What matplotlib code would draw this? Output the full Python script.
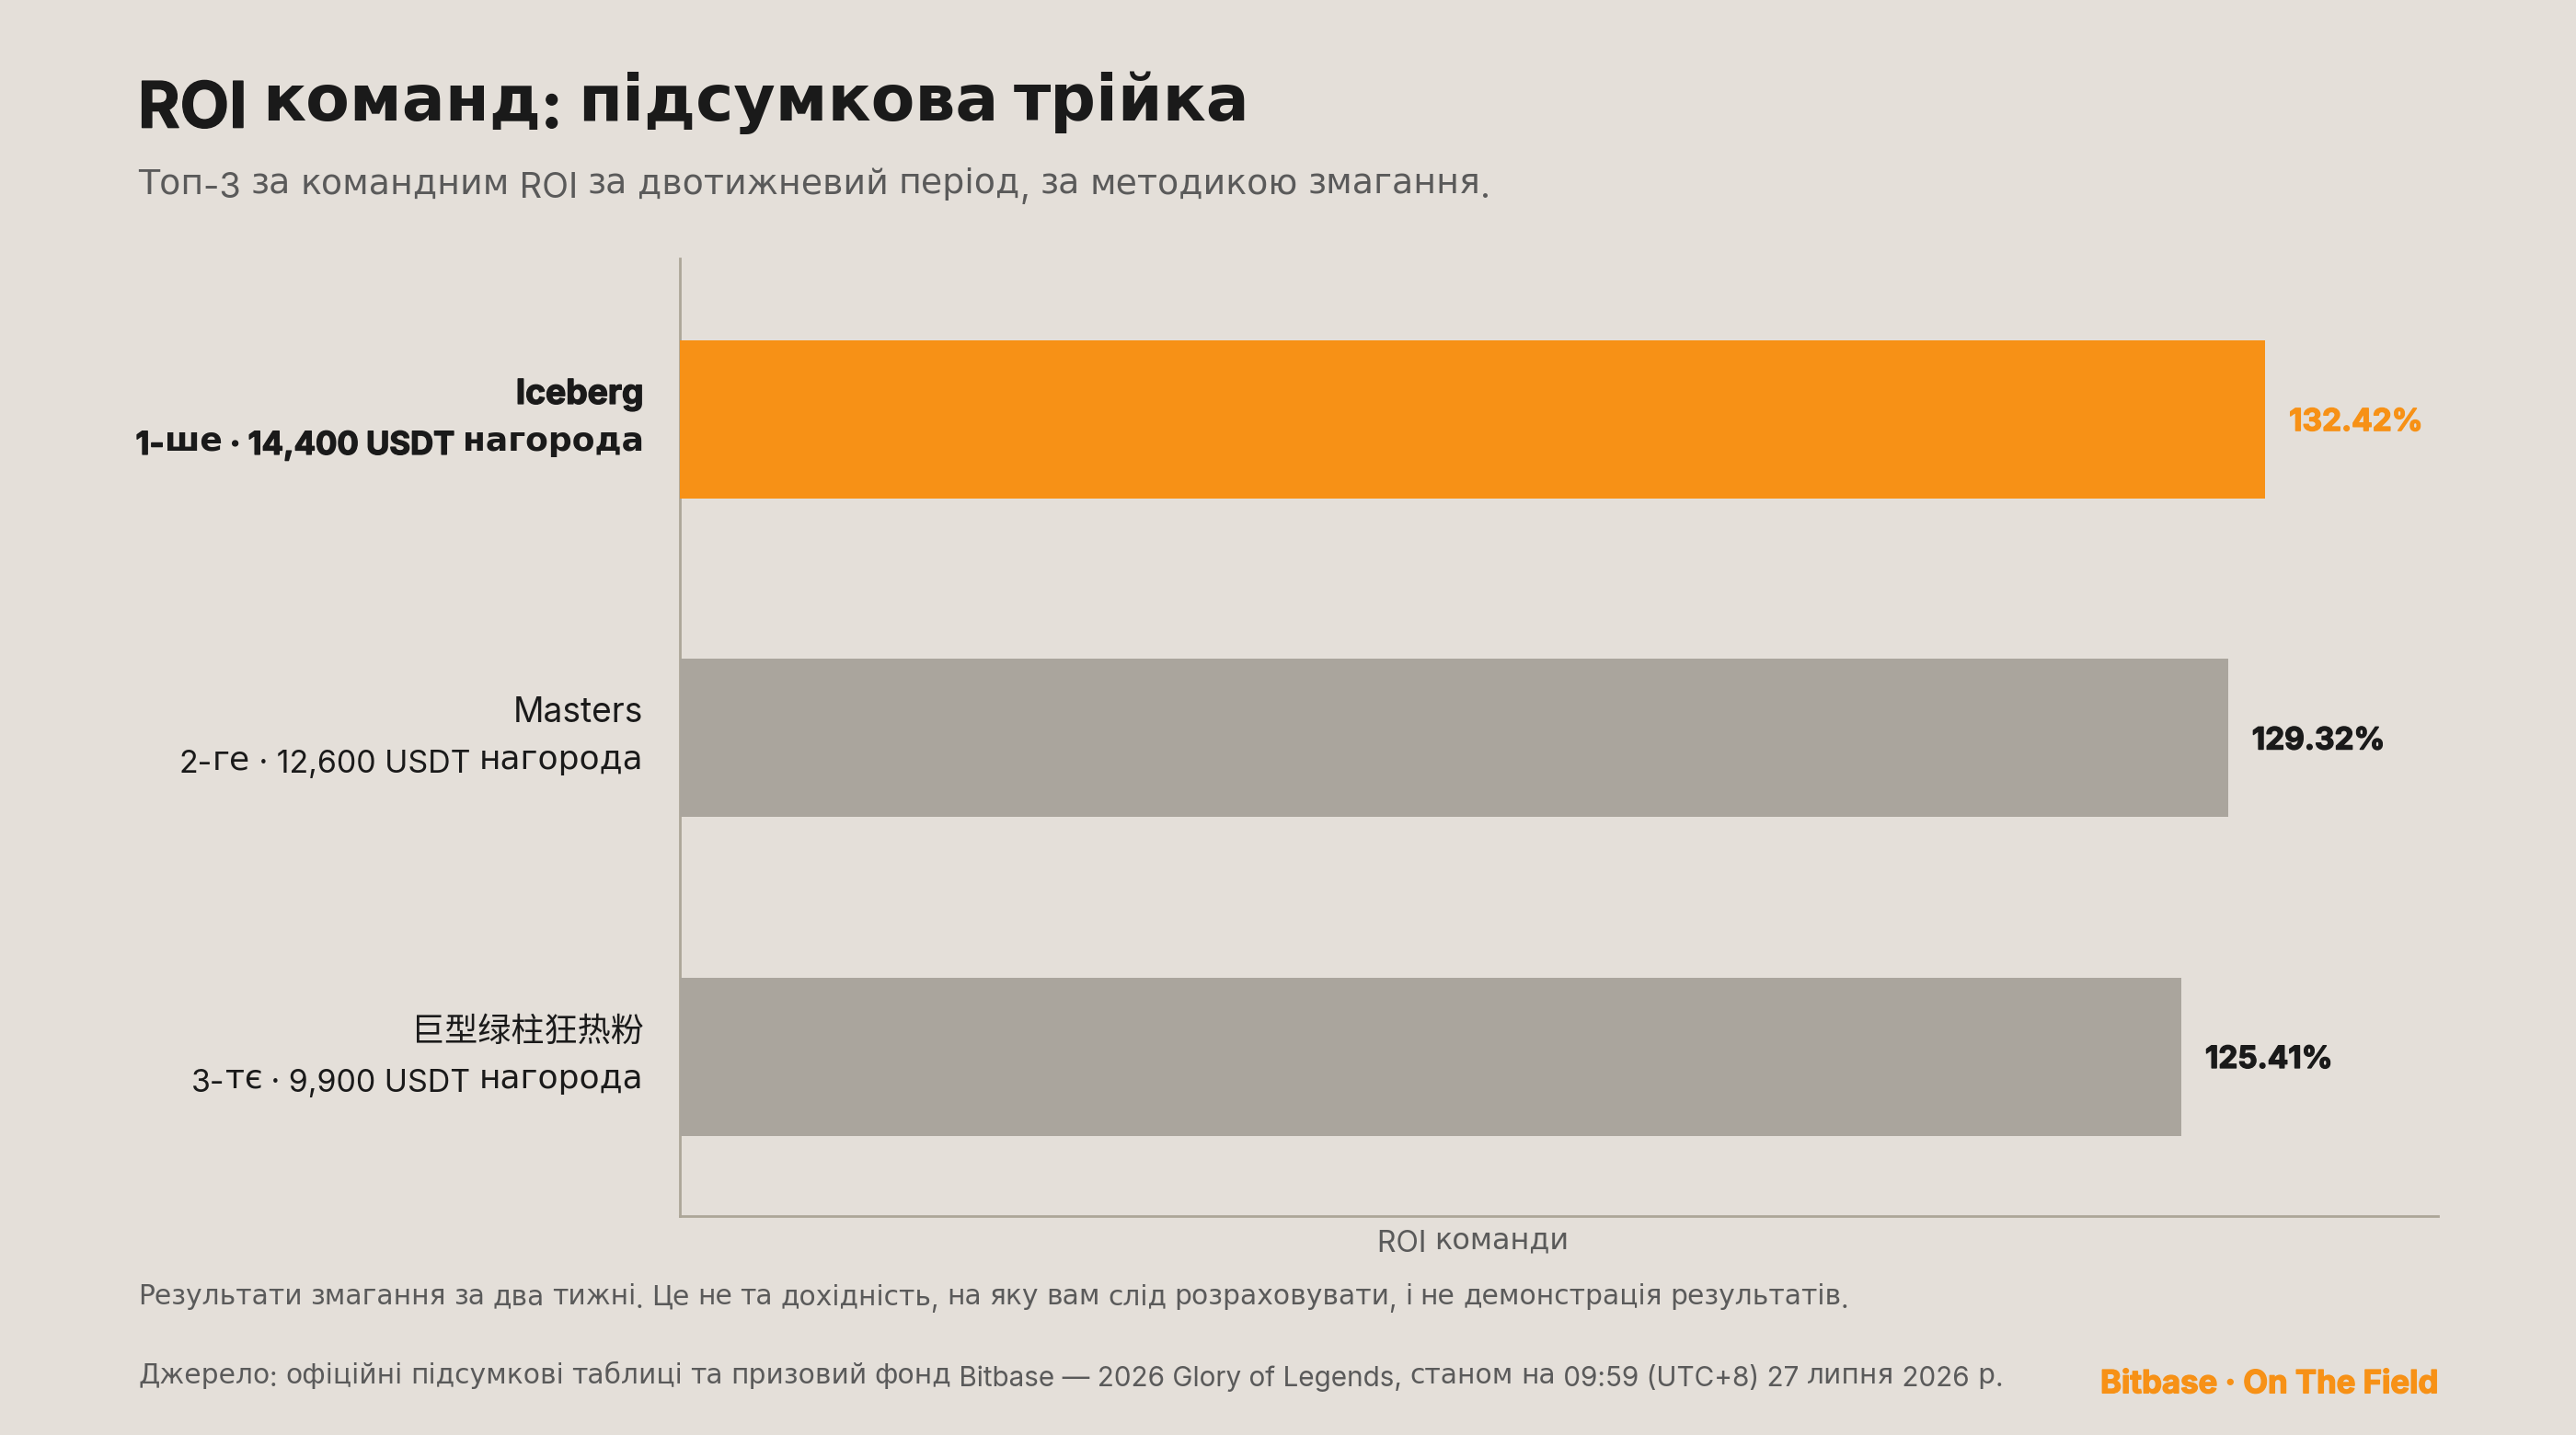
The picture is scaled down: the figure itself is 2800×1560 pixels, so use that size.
import re
import matplotlib
matplotlib.use("Agg")
import matplotlib.pyplot as plt
import matplotlib.patheffects as pe

# data
teams = ["Iceberg", "Masters", "巨型绿柱狂热粉"]
prizes = ["1-ше · 14,400 USDT нагорода", "2-ге · 12,600 USDT нагорода", "3-тє · 9,900 USDT нагорода"]
roi = [132.42, 129.32, 125.41]

title = "ROI команд: підсумкова трійка"
subtitle = "Топ-3 за командним ROI за двотижневий період, за методикою змагання."
xlabel = "ROI команди"
note = "Результати змагання за два тижні. Це не та дохідність, на яку вам слід розраховувати, і не демонстрація результатів."
source = "Джерело: офіційні підсумкові таблиці та призовий фонд Bitbase — 2026 Glory of Legends, станом на 09:59 (UTC+8) 27 липня 2026 р."
brand = "Bitbase · On The Field"

BG = "#e4dfd9"
ORANGE = "#f79116"
GREY = "#aaa59d"
DARK = "#1a1a1a"
MUTED = "#5a5a5a"
AXIS = "#aca698"
LATIN = "Inter"

W, H = 2800, 1560
fig = plt.figure(figsize=(14, 7.8), dpi=200, facecolor=BG)
rend = fig.canvas.get_renderer()


def split_runs(s):
    # cyrillic goes to DejaVu, CJK to Noto, the rest to the latin face
    runs = []
    for m in re.finditer(r"[\u0400-\u04ff]+|[\u4e00-\u9fff]+|[^\u0400-\u04ff\u4e00-\u9fff]+", s):
        part = m.group()
        if "\u0400" <= part[0] <= "\u04ff":
            runs.append((part, "DejaVu Sans"))
        elif "\u4e00" <= part[0] <= "\u9fff":
            runs.append((part, "Noto Sans CJK SC"))
        else:
            runs.append((part, LATIN))
    return runs


def text_width(s, **kw):
    # the x's keep leading and trailing spaces in the measure
    a = fig.text(0, 0, "x" + s + "x", **kw)
    b = fig.text(0, 0, "xx", **kw)
    w = a.get_window_extent(rend).width - b.get_window_extent(rend).width
    a.remove()
    b.remove()
    return w


def draw(s, x, y, size, color, weight="normal", ha="left", latin_scale=1.0):
    # x, y in pixels from the top left, y is the baseline
    runs = split_runs(s)
    sizes = [size * latin_scale if f == LATIN else size for _, f in runs]
    widths = [text_width(p, family=f, fontsize=z, fontweight=weight) for (p, f), z in zip(runs, sizes)]
    if ha == "right":
        x -= sum(widths)
    for (part, fam), w, z in zip(runs, widths, sizes):
        dy = 0 if fam == "DejaVu Sans" else 0.11 * size * 200 / 72
        t = fig.text(x / W, 1 - (y + dy) / H, part, family=fam, fontsize=z, fontweight=weight,
                     color=color, ha="left", va="baseline")
        if weight == "bold" and fam == LATIN:
            # Inter bold is a bit lighter than the original face
            t.set_path_effects([pe.withStroke(linewidth=0.5, foreground=color)])
        x += w


ax = fig.add_axes([739 / W, 1 - 1322 / H, (2650 - 739) / W, (1322 - 281) / H], facecolor=BG)
colors = [ORANGE, GREY, GREY]
ax.barh(range(len(teams)), roi, height=0.497, color=colors, zorder=3)
ax.set_xlim(0, max(roi) * 1.109)
ax.set_ylim(2.5, -0.505)
ax.set_xticks([])
ax.set_yticks([])
for side in ["top", "right"]:
    ax.spines[side].set_visible(False)
for side in ["left", "bottom"]:
    ax.spines[side].set_color(AXIS)
    ax.spines[side].set_linewidth(1)

for i, v in enumerate(roi):
    px, py = ax.transData.transform((v, i))
    first = i == 0
    draw(f"{v:.2f}%", px + 26, H - py + 8.5, 12, ORANGE if first else DARK, "bold")
    weight = "bold" if first else "normal"
    scale = 0.96 if first else 0.94
    draw(teams[i], 699.5, H - py - 21, 13, DARK, weight, ha="right", latin_scale=1.03)
    draw(prizes[i], 699.5, H - py + 34, 13, DARK, weight, ha="right", latin_scale=scale)

draw(title, 150, 131, 25, DARK, "bold")
draw(subtitle, 150, 210.5, 13.65, MUTED)
draw(xlabel, 1497, 1357.5, 11.5, MUTED)
draw(note, 150, 1418.5, 10.7, MUTED)
draw(source, 150, 1504, 10.7, MUTED)
draw(brand, 2650, 1510.5, 12.5, ORANGE, "bold", ha="right")

fig.savefig("out.png", dpi=200, facecolor=BG)
